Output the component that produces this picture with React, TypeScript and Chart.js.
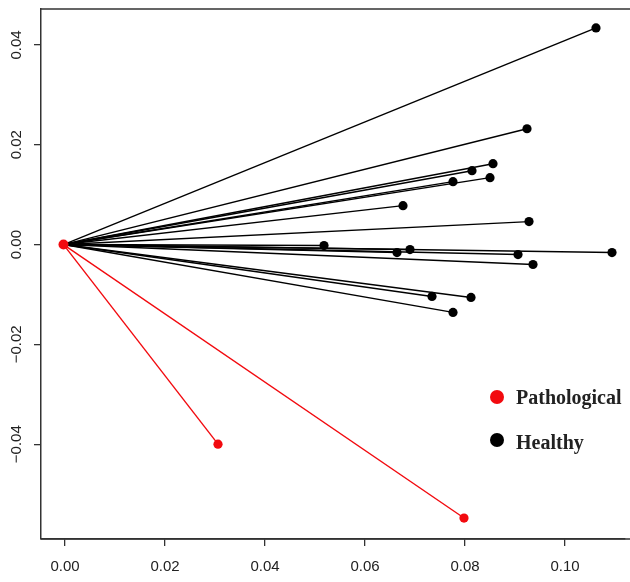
import React, { useEffect, useRef } from "react";
import { Chart, registerables } from "chart.js";

Chart.register(...registerables);

const healthyX = [0.1062, 0.0924, 0.0856, 0.0814, 0.085, 0.0776, 0.0676, 0.0928, 0.0518, 0.0664, 0.069, 0.0906, 0.1094, 0.0936, 0.0734, 0.0812, 0.0776];
const healthyY = [0.0434, 0.0232, 0.0162, 0.0148, 0.0134, 0.0126, 0.0078, 0.0046, -0.0002, -0.0016, -0.001, -0.002, -0.0016, -0.004, -0.0104, -0.0106, -0.0136];
const pathX = [0.0306, 0.0798];
const pathY = [-0.04, -0.0548];
const originX = -0.0003;
const originY = 0;
const xTicks = [0, 0.02, 0.04, 0.06, 0.08, 0.1];
const yTicks = [-0.04, -0.02, 0, 0.02, 0.04];
const legendLabels = ["Pathological", "Healthy"];
const RED = "#f20a0f";
const BLACK = "#000000";

const fmt = (v: number) => (v < 0 ? "\u2212" + Math.abs(v).toFixed(2) : v.toFixed(2));

export default function App() {
  const ref = useRef<HTMLCanvasElement>(null);
  useEffect(() => {
    document.body.style.margin = "0";
    const ctx = ref.current!.getContext("2d")!;
    const seg = (x: number, y: number, color: string) => ({
      type: "line" as const,
      data: [
        { x: originX, y: originY },
        { x, y },
      ],
      borderColor: color,
      backgroundColor: color,
      borderWidth: 1.4,
      pointRadius: [0, 4.6],
      pointBorderWidth: 0,
      pointHoverRadius: 0,
      fill: false,
      clip: false,
    });
    const datasets: any[] = [
      {
        type: "scatter",
        data: [{ x: originX, y: originY }],
        backgroundColor: RED,
        borderWidth: 0,
        pointRadius: 5,
      },
      ...pathX.map((x, i) => seg(x, pathY[i], RED)),
      ...healthyX.map((x, i) => seg(x, healthyY[i], BLACK)),
    ];
    const decor = {
      id: "decor",
      afterDraw(chart: any) {
        const c = chart.ctx;
        const a = chart.chartArea;
        c.save();
        c.strokeStyle = "#333";
        c.lineWidth = 1.5;
        c.beginPath();
        c.moveTo(a.left, a.top);
        c.lineTo(chart.width, a.top);
        c.moveTo(a.left, a.bottom);
        c.lineTo(chart.width, a.bottom);
        c.stroke();
        // y tick labels rotated
        const ys = chart.scales.y;
        c.fillStyle = "#222";
        c.font = "15px 'Liberation Sans', Arial, sans-serif";
        c.textAlign = "center";
        c.textBaseline = "middle";
        yTicks.forEach((v) => {
          const py = ys.getPixelForValue(v);
          c.save();
          c.translate(17, py);
          c.rotate(-Math.PI / 2);
          c.fillText(fmt(v), 0, 0);
          c.restore();
        });
        // legend
        const lx = 497;
        const items = [
          { label: legendLabels[0], color: RED, y: 397, ty: 399 },
          { label: legendLabels[1], color: BLACK, y: 440, ty: 444 },
        ];
        c.font = "bold 20px 'Liberation Serif', 'Times New Roman', serif";
        c.textAlign = "left";
        items.forEach((it) => {
          c.beginPath();
          c.fillStyle = it.color;
          c.arc(lx, it.y, 7, 0, Math.PI * 2);
          c.fill();
          c.fillStyle = "#222";
          c.fillText(it.label, lx + 19, it.ty);
        });
        c.restore();
      },
    };
    const chart = new Chart(ctx, {
      type: "line",
      data: { datasets },
      options: {
        animation: false,
        responsive: false,
        events: [],
        layout: { padding: { top: 9, left: 0, right: 0, bottom: 0 } },
        plugins: { legend: { display: false }, tooltip: { enabled: false } },
        scales: {
          x: {
            type: "linear",
            min: -0.0048,
            max: 0.112,
            afterBuildTicks: (s: any) => {
              s.ticks = xTicks.map((v) => ({ value: v }));
            },
            afterFit: (s: any) => {
              s.height = 43;
            },
            ticks: {
              autoSkip: false,
              maxRotation: 0,
              callback: (v: any) => fmt(Number(v)),
              font: { family: "'Liberation Sans', Arial, sans-serif", size: 15 },
              color: "#222",
              padding: 12,
            },
            grid: { drawOnChartArea: false, drawTicks: true, tickLength: 7, color: "#333", lineWidth: 1.3 },
            border: { display: true, color: "#333", width: 1.5 },
          },
          y: {
            type: "linear",
            min: -0.059,
            max: 0.0472,
            afterBuildTicks: (s: any) => {
              s.ticks = yTicks.map((v) => ({ value: v }));
            },
            afterFit: (s: any) => {
              s.width = 41;
            },
            ticks: { display: false },
            grid: { drawOnChartArea: false, drawTicks: true, tickLength: 7, color: "#333", lineWidth: 1.3 },
            border: { display: true, color: "#333", width: 1.5 },
          },
        },
      },
      plugins: [decor],
    });
    return () => chart.destroy();
  }, []);
  return (
    <div style={{ width: 630, height: 582, background: "#fff" }}>
      <canvas ref={ref} width={630} height={582} />
    </div>
  );
}
